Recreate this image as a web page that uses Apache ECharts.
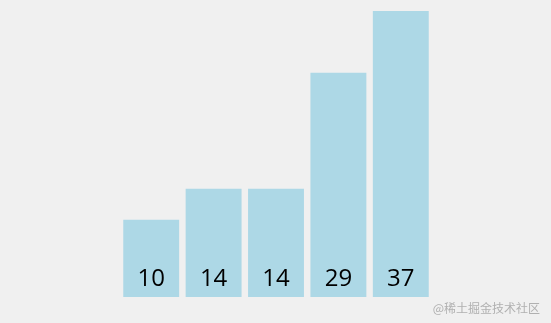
<!DOCTYPE html>
<html>
<head>
<meta charset="utf-8">
<style>
html,body{margin:0;padding:0;background:#f0f0f0;}
#c{width:551px;height:323px;}
</style>
<script src="https://cdn.jsdelivr.net/npm/echarts@6/dist/echarts.min.js"></script>
</head>
<body>
<div id="c"></div>
<script>
const categories = ['a', 'b', 'c', 'd', 'e'];
const values = [10, 14, 14, 29, 37];
const watermark = '@稀土掘金技术社区';

const chart = echarts.init(document.getElementById('c'), null, {renderer: 'canvas'});
chart.setOption({
  backgroundColor: '#f0f0f0',
  animation: false,
  grid: {left: 120, right: 119, top: 11, bottom: 26},
  xAxis: {type: 'category', data: categories, show: false},
  yAxis: {type: 'value', min: 0, max: 37, show: false},
  series: [{
    type: 'bar',
    data: values,
    barCategoryGap: '10.4%',
    itemStyle: {color: '#add8e6'},
    label: {
      show: true,
      position: 'insideBottom',
      distance: 6,
      color: '#000',
      fontSize: 24,
      fontFamily: 'Open Sans, sans-serif'
    }
  }],
  graphic: [{
    type: 'text',
    right: 11,
    bottom: 9,
    style: {
      text: watermark,
      fill: '#b0b0b0',
      fontSize: 12,
      fontFamily: 'Noto Sans CJK SC, sans-serif'
    }
  }]
});
</script>
</body>
</html>
